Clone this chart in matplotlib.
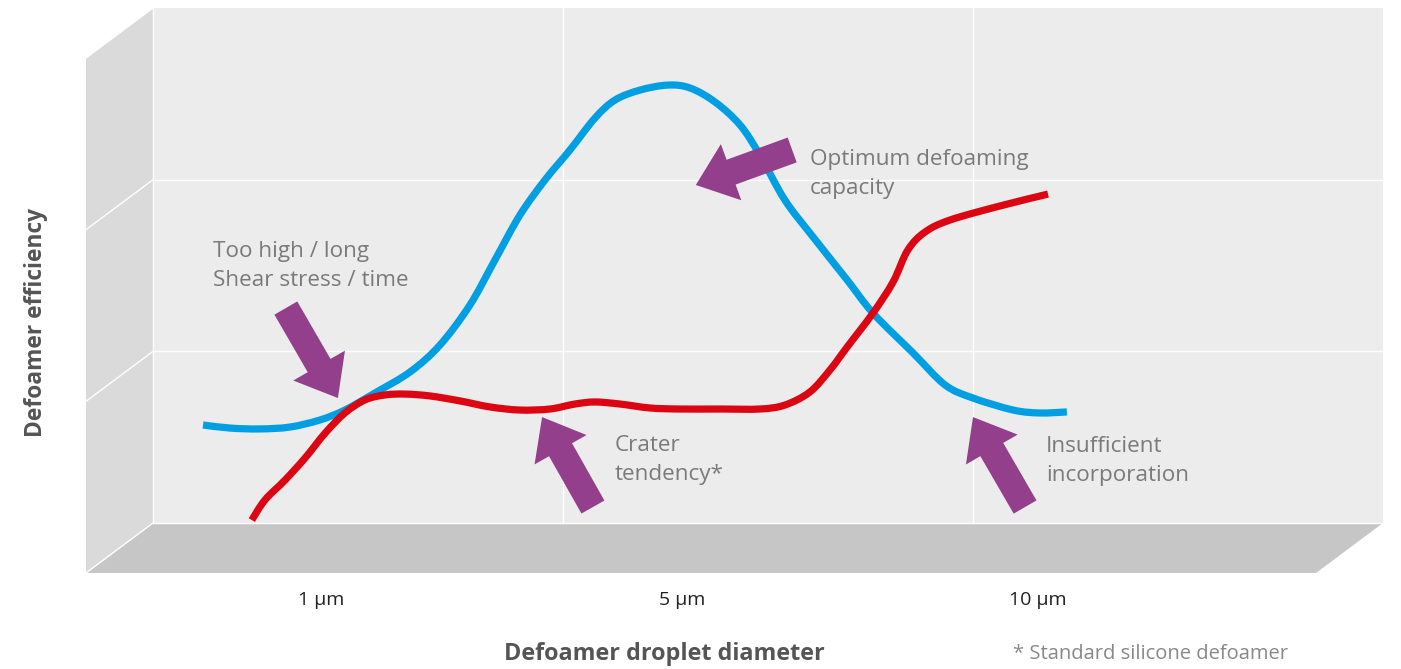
import numpy as np
import matplotlib
matplotlib.use("Agg")
import matplotlib.pyplot as plt
from matplotlib.path import Path
from matplotlib.patches import PathPatch, Polygon, FancyArrowPatch

plt.rcParams["font.family"] = ["Open Sans", "DejaVu Sans"]

# ---- data (chart units: back wall spans 0..3 in both directions) ----
blue_x = [0.122, 0.188, 0.261, 0.334, 0.407, 0.468, 0.541, 0.627, 0.700, 0.773,
          0.834, 0.895, 0.956, 1.017, 1.078, 1.127, 1.188, 1.256, 1.310, 1.371,
          1.432, 1.480, 1.541, 1.610, 1.693, 1.756, 1.854, 1.932, 2.000, 2.098,
          2.163, 2.229]
blue_y = [0.571, 0.553, 0.548, 0.559, 0.600, 0.658, 0.757, 0.880, 1.037, 1.270,
          1.532, 1.794, 1.998, 2.173, 2.359, 2.464, 2.522, 2.551, 2.534, 2.452,
          2.318, 2.144, 1.882, 1.666, 1.416, 1.223, 0.990, 0.804, 0.728, 0.658,
          0.641, 0.647]

red_x = [0.241, 0.273, 0.322, 0.371, 0.420, 0.468, 0.517, 0.566, 0.615, 0.676,
         0.749, 0.822, 0.895, 0.968, 1.029, 1.078, 1.139, 1.212, 1.285, 1.383,
         1.480, 1.541, 1.602, 1.651, 1.693, 1.756, 1.805, 1.841, 1.883, 1.944,
         2.066, 2.183]
red_y = [0.017, 0.134, 0.250, 0.379, 0.524, 0.641, 0.717, 0.746, 0.751, 0.740,
         0.711, 0.676, 0.658, 0.664, 0.693, 0.705, 0.693, 0.670, 0.664, 0.664,
         0.664, 0.687, 0.763, 0.891, 1.025, 1.223, 1.404, 1.590, 1.695, 1.765,
         1.847, 1.916]

tick_labels = ["1 μm", "5 μm", "10 μm"]
tick_px = [321, 682, 1038]

# annotation arrows: (tail x, tail y, tip x, tip y)
arrows = [
    (0.324, 1.252, 0.451, 0.728),
    (1.073, 0.093, 0.949, 0.617),
    (1.559, 2.173, 1.324, 1.969),
    (2.127, 0.093, 2.000, 0.617),
]
notes = [
    ("Too high / long\nShear stress / time", 213, 266),
    ("Optimum defoaming\ncapacity", 810, 174),
    ("Crater\ntendency*", 615, 460),
    ("Insufficient\nincorporation", 1046, 461),
]

BLUE = "#009fe3"
RED = "#dc0613"
PURPLE = "#933f8c"
TEXT_GREY = "#7a7a7a"

W, H = 1401, 669
fig = plt.figure(figsize=(W / 100, H / 100), dpi=100)
fig.patch.set_facecolor("white")

# back wall of the box
ax = fig.add_axes([153 / W, (H - 523) / H, 1230 / W, 515 / H])
ax.set_xlim(0, 3)
ax.set_ylim(0, 3)
ax.set_facecolor("#ececec")
for s in ax.spines.values():
    s.set_visible(False)
ax.set_xticks([])
ax.set_yticks([])

# depth offset of the box front edge, in chart units
DX = -67 / 410
DY = -50 / (515 / 3)

left_wall = Polygon([(0, 0), (0, 3), (DX, 3 + DY), (DX, DY)], closed=True,
                    facecolor="#dadada", edgecolor="none", clip_on=False, zorder=0.5)
floor = Polygon([(0, 0), (3, 0), (3 + DX, DY), (DX, DY)], closed=True,
                facecolor="#c6c6c6", edgecolor="none", clip_on=False, zorder=0.5)
ax.add_patch(left_wall)
ax.add_patch(floor)

gkw = dict(color="white", lw=1.0, clip_on=False, zorder=0.8)
for g in (1, 2):
    ax.plot([0, 3], [g, g], **gkw)
    ax.plot([0, DX], [g, g + DY], **gkw)
    ax.plot([g, g], [0, 3], **gkw)
ax.plot([0, 0], [0, 3], **gkw)
ax.plot([0, 3], [0, 0], **gkw)
ax.plot([0, DX], [3, 3 + DY], **gkw)
ax.plot([0, DX], [0, DY], **gkw)


def smooth_path(xs, ys):
    """Catmull-Rom curve through the points, as cubic Bezier segments."""
    p = np.column_stack([xs, ys])
    ext = np.vstack([p[0], p, p[-1]])
    verts = [p[0]]
    codes = [Path.MOVETO]
    for i in range(1, len(ext) - 2):
        p0, p1, p2, p3 = ext[i - 1], ext[i], ext[i + 1], ext[i + 2]
        c1 = p1 + (p2 - p0) / 6.0
        c2 = p2 - (p3 - p1) / 6.0
        verts += [c1, c2, p2]
        codes += [Path.CURVE4] * 3
    return Path(verts, codes)


for xs, ys, c in ((blue_x, blue_y, BLUE), (red_x, red_y, RED)):
    ax.add_patch(PathPatch(smooth_path(xs, ys), facecolor="none", edgecolor=c,
                           lw=5.2, capstyle="butt", joinstyle="round", zorder=3,
                           clip_on=False))

for tx, ty, hx, hy in arrows:
    ax.add_patch(FancyArrowPatch(
        (tx, ty), (hx, hy),
        arrowstyle="simple,head_length=27,head_width=43,tail_width=19",
        mutation_scale=1, shrinkA=0, shrinkB=0,
        facecolor=PURPLE, edgecolor="none", zorder=4, clip_on=False))


def fx(px):
    return px / W


def fy(py):
    return 1 - py / H


for text, px, py in notes:
    fig.text(fx(px), fy(py), text, ha="left", va="center", fontsize=16.2,
             color=TEXT_GREY, linespacing=1.56, zorder=5)

for lab, px in zip(tick_labels, tick_px):
    fig.text(fx(px), fy(600), lab, ha="center", va="center", fontsize=14,
             color="#222222")

fig.text(fx(664), fy(654), "Defoamer droplet diameter", ha="center", va="center",
         fontsize=16.8, fontweight="bold", color="#555555")
fig.text(fx(36), fy(322), "Defoamer efficiency", ha="center", va="center",
         rotation=90, fontsize=16.4, fontweight="bold", color="#555555")
fig.text(fx(1013), fy(654), "* Standard silicone defoamer", ha="left",
         va="center", fontsize=14.5, color="#888888")

fig.savefig("out.png", dpi=100, facecolor="white")
